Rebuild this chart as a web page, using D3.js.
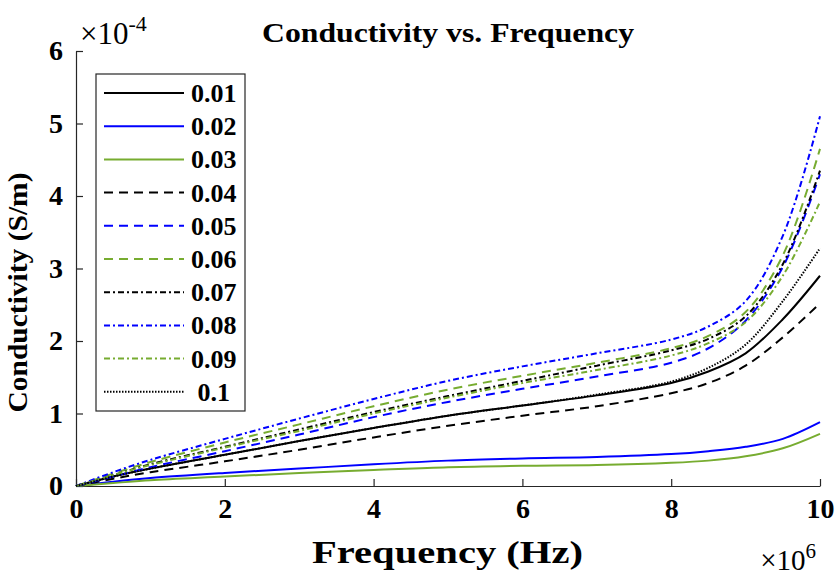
<!DOCTYPE html>
<meta charset="utf-8">
<script src="https://cdn.jsdelivr.net/npm/d3@7"></script>
<style>
  body { margin: 0; background: #fff; }
  text { font-family: "Liberation Serif", "Times New Roman", serif; font-weight: bold; fill: #000; }
</style>
<div id="my_dataviz"></div>
<script>

// frequency in units of 1e6 Hz
var freq = [0, 0.5, 1, 2, 3, 4, 5, 6, 7, 8, 8.5, 9, 9.5, 10];

// conductivity in units of 1e-4 S/m
var c001 = [0, 0.13, 0.24, 0.43, 0.62, 0.80, 0.97, 1.11, 1.25, 1.42, 1.58, 1.83, 2.30, 2.90];
var c002 = [0, 0.06, 0.11, 0.18, 0.24, 0.30, 0.35, 0.38, 0.40, 0.44, 0.48, 0.54, 0.65, 0.88];
var c003 = [0, 0.04, 0.08, 0.13, 0.18, 0.22, 0.26, 0.28, 0.29, 0.32, 0.35, 0.41, 0.52, 0.72];
var c004 = [0, 0.10, 0.19, 0.34, 0.50, 0.67, 0.83, 0.97, 1.10, 1.28, 1.42, 1.66, 2.05, 2.52];
var c005 = [0, 0.13, 0.26, 0.48, 0.71, 0.95, 1.16, 1.34, 1.51, 1.70, 1.90, 2.28, 3.02, 4.30];
var c006 = [0, 0.17, 0.33, 0.60, 0.85, 1.10, 1.33, 1.52, 1.70, 1.90, 2.07, 2.40, 3.18, 4.65];
var c007 = [0, 0.15, 0.30, 0.54, 0.78, 1.02, 1.24, 1.45, 1.66, 1.87, 2.03, 2.34, 3.06, 4.35];
var c008 = [0, 0.19, 0.36, 0.65, 0.93, 1.20, 1.45, 1.65, 1.83, 2.02, 2.20, 2.55, 3.45, 5.10];
var c009 = [0, 0.15, 0.29, 0.53, 0.76, 1.00, 1.22, 1.42, 1.60, 1.80, 1.97, 2.26, 2.90, 3.92];
var c010 = [0, 0.13, 0.24, 0.43, 0.62, 0.80, 0.97, 1.11, 1.26, 1.44, 1.63, 1.95, 2.55, 3.28];

var labels = ["0.01", "0.02", "0.03", "0.04", "0.05", "0.06", "0.07", "0.08", "0.09", " 0.1"];
var xTicks = [0, 2, 4, 6, 8, 10];
var yTicks = [0, 1, 2, 3, 4, 5, 6];

var series = [c001, c002, c003, c004, c005, c006, c007, c008, c009, c010];
var colors = ["#000000", "#0000ff", "#77ac30", "#000000", "#0000ff", "#77ac30", "#000000", "#0000ff", "#77ac30", "#000000"];
var dashes = ["none", "none", "none", "9,6", "9,6", "9,6", "6,3,2,3", "6,3,2,3", "6,3,2,3", "1.5,1.5"];

var margin = {top: 51, right: 19, bottom: 92, left: 76},
    width = 839 - margin.left - margin.right,
    height = 578 - margin.top - margin.bottom;

var svg = d3.select("#my_dataviz")
  .append("svg")
    .attr("width", 839)
    .attr("height", 578)
  .append("g")
    .attr("transform", "translate(" + margin.left + "," + margin.top + ")");

var x = d3.scaleLinear().domain([0, 10]).range([0, width]);
var y = d3.scaleLinear().domain([0, 6]).range([height, 0]);

// X axis (ticks point inward)
var gx = svg.append("g")
  .attr("transform", "translate(0," + height + ")")
  .call(d3.axisBottom(x).tickValues(xTicks).tickSizeInner(-7).tickSizeOuter(0).tickPadding(12).tickFormat(d3.format("d")));

// Y axis
var gy = svg.append("g")
  .call(d3.axisLeft(y).tickValues(yTicks).tickSizeInner(-7).tickSizeOuter(0).tickPadding(13).tickFormat(d3.format("d")));

[gx, gy].forEach(function(g) {
  g.select(".domain").attr("stroke", "#262626").attr("stroke-width", 1.2);
  g.selectAll(".tick line").attr("stroke", "#262626").attr("stroke-width", 1.2);
  g.selectAll(".tick text").style("font-size", "28px").style("font-family", "Liberation Serif").style("font-weight", "bold").attr("fill", "#000");
});

// curves
var line = d3.line()
  .x(function(d, i) { return x(freq[i]); })
  .y(function(d) { return y(d); })
  .curve(d3.curveCatmullRom.alpha(0.5));

series.forEach(function(s, i) {
  svg.append("path")
    .datum(s)
    .attr("d", line)
    .attr("fill", "none")
    .attr("stroke", colors[i])
    .attr("stroke-width", 2)
    .attr("stroke-dasharray", dashes[i]);
});

// legend
var lg = svg.append("g").attr("transform", "translate(20,23)");
lg.append("rect")
  .attr("x", 0).attr("y", 0)
  .attr("width", 149).attr("height", 337)
  .attr("fill", "#fff").attr("stroke", "#262626").attr("stroke-width", 1.2);

labels.forEach(function(l, i) {
  var yy = 19 + i * 33.2;
  lg.append("line")
    .attr("x1", 8).attr("x2", 88)
    .attr("y1", yy).attr("y2", yy)
    .attr("stroke", colors[i]).attr("stroke-width", 2)
    .attr("stroke-dasharray", dashes[i]);
  lg.append("text")
    .attr("x", 95).attr("y", yy + 9)
    .style("font-size", "26px")
    .style("white-space", "pre")
    .text(l);
});

// title
svg.append("text")
  .attr("x", 186).attr("y", -9)
  .attr("textLength", 372).attr("lengthAdjust", "spacingAndGlyphs")
  .style("font-size", "28px")
  .text("Conductivity vs. Frequency");

// axis labels
svg.append("text")
  .attr("x", 236).attr("y", height + 77)
  .attr("textLength", 271).attr("lengthAdjust", "spacingAndGlyphs")
  .style("font-size", "32px")
  .text("Frequency (Hz)");

svg.append("text")
  .attr("transform", "translate(" + (-49) + "," + (height / 2 + 144) + ")rotate(-90)")
  .attr("textLength", 240).attr("lengthAdjust", "spacingAndGlyphs")
  .style("font-size", "27px")
  .text("Conductivity (S/m)");

// exponent labels
var ex1 = svg.append("text").attr("x", 4).attr("y", -7).style("font-size", "31px").style("font-weight", "normal");
ex1.append("tspan").text("\u00d710");
ex1.append("tspan").attr("dy", -13).style("font-size", "22px").text("-4");

var ex2 = svg.append("text").attr("x", width - 4).attr("y", height + 84).attr("text-anchor", "end").style("font-size", "29px").style("font-weight", "normal");
ex2.append("tspan").text("\u00d710");
ex2.append("tspan").attr("dy", -12).style("font-size", "21px").text("6");

</script>
